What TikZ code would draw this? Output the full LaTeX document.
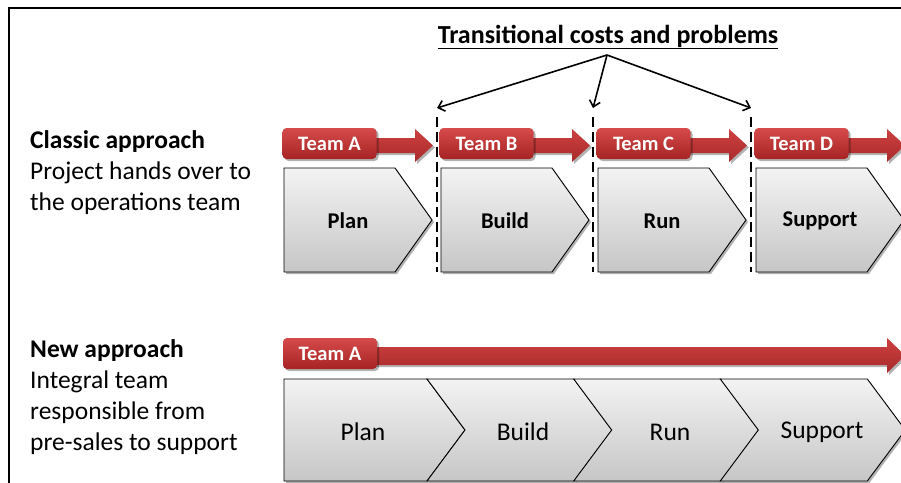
\documentclass[tikz,border=0pt]{standalone}
\usepackage{fontspec}
\setmainfont{Carlito}
\usetikzlibrary{arrows.meta, shadows}
\definecolor{TeamTop}{RGB}{214,74,74}
\definecolor{TeamBottom}{RGB}{166,36,36}
\definecolor{ArrowTop}{RGB}{206,64,64}
\definecolor{ArrowBottom}{RGB}{168,42,42}
\definecolor{PhaseTop}{RGB}{243,243,243}
\definecolor{PhaseBottom}{RGB}{198,198,198}
\tikzstyle{frame} = [line width=2.5pt, line cap=rect]
\tikzstyle{softshadow} = [drop shadow={shadow xshift=2pt, shadow yshift=-2pt, opacity=0.3, fill=black}]
\tikzstyle{redarrow} = [top color=ArrowTop, bottom color=ArrowBottom, softshadow]
\tikzstyle{teambox} = [rounded corners=4pt, top color=TeamTop, bottom color=TeamBottom, text=white, minimum width=94pt, minimum height=31pt, inner sep=0pt, font=\fontsize{20.5}{24}\selectfont\bfseries, softshadow]
\tikzstyle{phasebox} = [draw=black, line width=0.9pt, top color=PhaseTop, bottom color=PhaseBottom, softshadow]
\tikzstyle{phaselabel} = [inner sep=0pt, font=\fontsize{25.5}{30}\selectfont]
\tikzstyle{sidetext} = [anchor=north west, align=left, inner sep=0pt, font=\fontsize{25.5}{31}\selectfont]
\tikzstyle{handover} = [line width=2.8pt, dash pattern=on 10pt off 5pt]
\tikzstyle{costarrow} = [line width=1.6pt, -{Straight Barb[length=6pt, width=11pt]}]

\begin{document}
\begin{tikzpicture}[x=1pt, y=-1pt]
    \useasboundingbox (0,0) rectangle (901,482);
    \clip (0,0) rectangle (901,482);
    % Frame
    \draw[frame] (9,484) -- (9,8) -- (903,8);

    % Classic approach
    \node[sidetext] (classic) at (30,130) {\textbf{Classic approach}\\Project hands over to\\the operations team};
    \foreach \tm/\phase/\x in {A/Plan/0, B/Build/157, C/Run/314, D/Support/472} {
            \begin{scope}[xshift=\x pt]
                \path[redarrow] (370,138) -- (415,138) -- (415,129) -- (433,145.5) -- (415,162) -- (415,153) -- (370,153) -- cycle;
                \node[teambox] (team\tm) at (329.5,143.5) {Team \tm};
                \path[phasebox] (284,168) -- (395,168) -- (432,220) -- (395,272) -- (284,272) -- cycle;
                \node[phaselabel, font=\fontsize{22.5}{27}\selectfont\bfseries] (classic\phase) at (348,221) {\phase};
            \end{scope}
        }

    % Hand-over points
    \foreach \gap/\x in {AB/437, BC/593, CD/751} {
            \coordinate (gap\gap) at (\x,108);
            \coordinate (end\gap) at (\x,272);
            \draw[handover] ([yshift=-9pt]gap\gap) -- (end\gap);
        }

    % Transitional costs
    \node[anchor=base, inner sep=0pt, font=\fontsize{26}{30}\selectfont\bfseries] (costs) at (608,43) {\underline{Transitional costs and problems}};
    \coordinate (fork) at (607,55);
    \foreach \gap in {AB, BC, CD} {
            \draw[costarrow] (fork) -- (gap\gap);
        }

    % New approach
    \node[sidetext] (new) at (30,339) {\textbf{New approach}\\Integral team\\responsible from\\pre-sales to support};
    \path[redarrow] (370,347) -- (887,347) -- (887,338) -- (905,355.5) -- (887,373) -- (887,365) -- (370,365) -- cycle;
    \node[teambox] (teamAll) at (330,353.5) {Team A};
    \path[phasebox] (284,379) -- (427,379) -- (465,430) -- (427,481) -- (284,481) -- cycle;
    \node[phaselabel] (newPlan) at (363,432) {Plan};
    \foreach \phase/\x/\lx in {Build/0/523, Run/146.7/670, Support/293.3/822} {
            \path[phasebox, xshift=\x pt] (427,379) -- (574,379) -- (612,430) -- (574,481) -- (427,481) -- (465,430) -- cycle;
            \node[phaselabel] (new\phase) at (\lx,432) {\phase};
        }
\end{tikzpicture}
\end{document}
